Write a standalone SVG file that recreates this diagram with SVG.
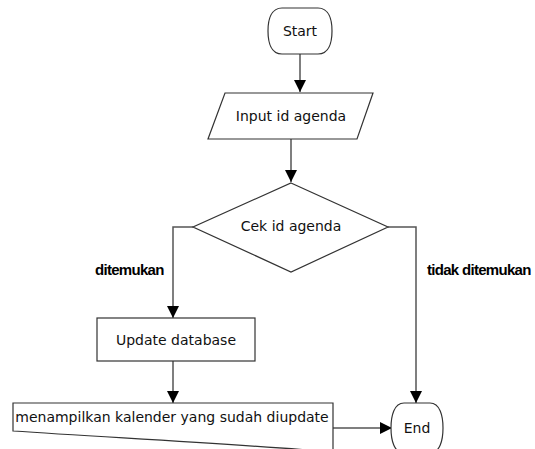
<svg xmlns="http://www.w3.org/2000/svg" width="535" height="449" viewBox="0 0 535 449">
<style>
.shape{fill:#fff;stroke:#333;stroke-width:1.2}
.t{font-family:"DejaVu Sans",Verdana,sans-serif;font-size:14px;fill:#111;text-anchor:middle;dominant-baseline:central}
.lbl{font-family:"Liberation Sans",Arial,sans-serif;font-size:15px;font-weight:bold;fill:#000;letter-spacing:-0.7px}
.c{fill:none;stroke:#555;stroke-width:1.5}
</style>
<defs>
<marker id="ah" markerWidth="12" markerHeight="12" viewBox="0 0 12 12" refX="12" refY="6" orient="auto" markerUnits="userSpaceOnUse">
<path d="M0,0 L12,6 L0,12 Z" fill="#000"/>
</marker>
</defs>
<rect width="535" height="449" fill="#fff"/>
<g id="connectors">
<path class="c" d="M300,54 V92" marker-end="url(#ah)"/>
<path class="c" d="M291,139 V182" marker-end="url(#ah)"/>
<path class="c" d="M193,227 H173 V318" marker-end="url(#ah)"/>
<path class="c" d="M388,227 H416 V403" marker-end="url(#ah)"/>
<path class="c" d="M173,361 V403" marker-end="url(#ah)"/>
<path class="c" d="M333,428 H392" marker-end="url(#ah)"/>
<text class="lbl" x="95" y="275">ditemukan</text>
<text class="lbl" x="427" y="275">tidak ditemukan</text>
</g>
<g id="start">
<path class="shape" d="M282,8 H318 C329,8 332,20 332,31 C332,42 329,54 318,54 H282 C271,54 268,42 268,31 C268,20 271,8 282,8 Z"/>
<text class="t" x="300" y="31">Start</text>
</g>
<g id="input">
<path class="shape" d="M225,93 H373 L357,139 H208 Z"/>
<text class="t" x="291" y="116">Input id agenda</text>
</g>
<g id="decision">
<path class="shape" d="M291,183 L388,227 L291,272 L193,227 Z"/>
<text class="t" x="291" y="226">Cek id agenda</text>
</g>
<g id="update">
<rect class="shape" x="97" y="318" width="158" height="43"/>
<text class="t" x="176" y="340">Update database</text>
</g>
<g id="display">
<path class="shape" d="M13,403 H333 V452 C250,445 120,438 13,431 Z"/>
<text class="t" x="172" y="417">menampilkan kalender yang sudah diupdate</text>
</g>
<g id="end">
<path class="shape" d="M404,403 H430 C440,403 443,416 443,428 C443,440 440,453 430,453 H404 C394,453 391,440 391,428 C391,416 394,403 404,403 Z"/>
<text class="t" x="417" y="428">End</text>
</g>
</svg>
